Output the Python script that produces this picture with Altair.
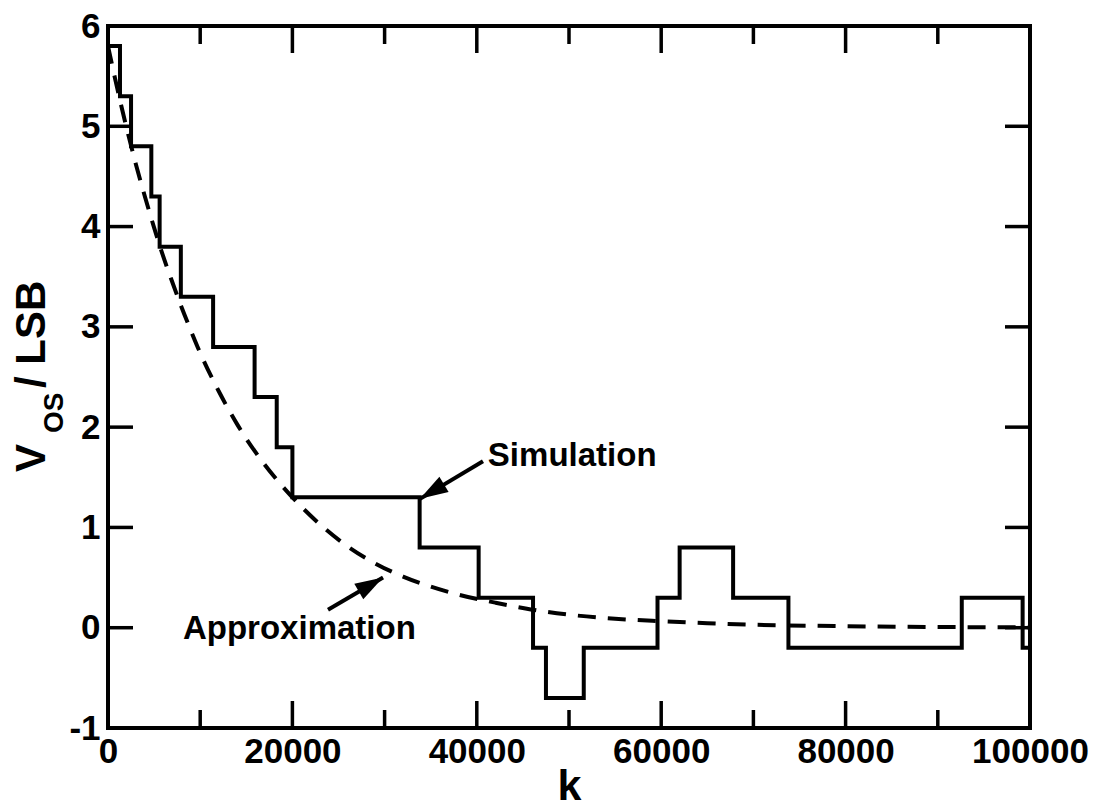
import altair as alt
import pandas as pd

# ---- data ----
sim_k = [0, 1300, 2500, 4700, 5600, 7900, 11400, 15900, 18300, 20000, 33800,
         40200, 46100, 47500, 51600, 59600, 62000, 67800, 73800, 92600, 99200, 100000]
sim_v = [5.8, 5.3, 4.8, 4.3, 3.8, 3.3, 2.8, 2.3, 1.8, 1.3, 0.8,
         0.3, -0.2, -0.7, -0.2, 0.3, 0.8, 0.3, -0.2, 0.3, -0.2, -0.2]

approx_k = [0, 1000, 2000, 3000, 4000, 5000, 6000, 7000, 8000, 9000, 10000,
            12000, 14000, 16000, 18000, 20000, 23000, 26000, 29000, 32000, 35000,
            38000, 42000, 46000, 50000, 55000, 60000, 65000, 70000, 80000, 90000, 100000]
approx_v = [5.8, 5.38, 4.99, 4.63, 4.30, 3.99, 3.70, 3.44, 3.19, 2.96, 2.74,
            2.36, 2.03, 1.75, 1.51, 1.30, 1.03, 0.81, 0.64, 0.51, 0.41,
            0.33, 0.25, 0.18, 0.13, 0.09, 0.065, 0.045, 0.03, 0.015, 0.007, 0.003]

x_labels = [0, 20000, 40000, 60000, 80000, 100000]
x_major_inner = [20000, 40000, 60000, 80000]
x_minor = [10000, 30000, 50000, 70000, 90000]
y_labels = [-1, 0, 1, 2, 3, 4, 5, 6]
y_inner = [0, 1, 2, 3, 4, 5]

ann_text = ["Simulation", "Approximation"]
ann_k = [41200, 8130]
ann_v = [1.61, -0.11]
arrow_tail_k = [40670, 23860]
arrow_tail_v = [1.66, 0.18]
arrow_tip_k = [33840, 29830]
arrow_tip_v = [1.285, 0.50]
arrow_angle = [239, 60]

# ---- layout / style ----
W, H = 922, 702
FONT = "Liberation Sans"

sim_df = pd.DataFrame({"k": sim_k, "v": sim_v})
approx_df = pd.DataFrame({"k": approx_k, "v": approx_v})
ann_df = pd.DataFrame({"t": ann_text, "k": ann_k, "v": ann_v})
arrow_df = pd.DataFrame({"k": arrow_tail_k, "v": arrow_tail_v,
                         "k2": arrow_tip_k, "v2": arrow_tip_v, "a": arrow_angle})

xscale = alt.Scale(domain=[0, 100000], nice=False, zero=False)
yscale = alt.Scale(domain=[-1, 6], nice=False, zero=False)

xaxis = alt.Axis(values=x_labels, labelExpr="'' + datum.value", ticks=False, tickSize=0,
                 domain=False, grid=False, labelPadding=6, labelFlush=False,
                 labelOverlap=False, labelFontSize=35, labelFont=FONT,
                 labelFontWeight="bold", labelColor="black",
                 title="k", titleFont=FONT, titleFontSize=43, titleFontWeight="bold",
                 titleColor="black", titleX=W / 2, titleY=71, titleBaseline="alphabetic")
yaxis = alt.Axis(values=y_labels, labelExpr="'' + datum.value", ticks=False, tickSize=0,
                 domain=False, grid=False, labelPadding=8, labelFlush=False,
                 labelOverlap=False, labelFontSize=35, labelFont=FONT,
                 labelFontWeight="bold", labelColor="black", title=None)

base_x = alt.X("k:Q", scale=xscale, axis=xaxis)
base_y = alt.Y("v:Q", scale=yscale, axis=yaxis)

sim = alt.Chart(sim_df).mark_line(interpolate="step-after", color="black",
                                  strokeWidth=4).encode(x=base_x, y=base_y)
approx = alt.Chart(approx_df).mark_line(interpolate="monotone", color="black",
                                        strokeWidth=4, strokeDash=[18, 12]).encode(
    x=alt.X("k:Q", scale=xscale), y=alt.Y("v:Q", scale=yscale))

# inward ticks
xmaj_df = pd.DataFrame({"k": x_major_inner})
xmin_df = pd.DataFrame({"k": x_minor})
ytk_df = pd.DataFrame({"v": y_inner})
tick_style = dict(color="black", strokeWidth=3.5)
ticks = [
    alt.Chart(xmaj_df).mark_rule(**tick_style).encode(
        x=alt.X("k:Q", scale=xscale), y=alt.value(H), y2=alt.value(H - 27)),
    alt.Chart(xmaj_df).mark_rule(**tick_style).encode(
        x=alt.X("k:Q", scale=xscale), y=alt.value(0), y2=alt.value(27)),
    alt.Chart(xmin_df).mark_rule(**tick_style).encode(
        x=alt.X("k:Q", scale=xscale), y=alt.value(H), y2=alt.value(H - 18)),
    alt.Chart(xmin_df).mark_rule(**tick_style).encode(
        x=alt.X("k:Q", scale=xscale), y=alt.value(0), y2=alt.value(18)),
    alt.Chart(ytk_df).mark_rule(**tick_style).encode(
        y=alt.Y("v:Q", scale=yscale), x=alt.value(0), x2=alt.value(25)),
    alt.Chart(ytk_df).mark_rule(**tick_style).encode(
        y=alt.Y("v:Q", scale=yscale), x=alt.value(W), x2=alt.value(W - 25)),
]

# annotations
ann = alt.Chart(ann_df).mark_text(font=FONT, fontSize=33, fontWeight="bold", color="black",
                                  align="left", baseline="alphabetic").encode(
    x=alt.X("k:Q", scale=xscale), y=alt.Y("v:Q", scale=yscale), text="t:N")
arrow_line = alt.Chart(arrow_df).mark_rule(color="black", strokeWidth=4).encode(
    x=alt.X("k:Q", scale=xscale), y=alt.Y("v:Q", scale=yscale), x2="k2:Q", y2="v2:Q")
arrow_head = alt.Chart(arrow_df).mark_point(
    shape="M0,0L-0.32,1L0.32,1Z", filled=True, color="black", opacity=1,
    size=3136, strokeWidth=0).encode(
    x=alt.X("k2:Q", scale=xscale), y=alt.Y("v2:Q", scale=yscale),
    angle=alt.Angle("a:Q", scale=None))

# y-axis title with subscript
yt_V = alt.Chart(pd.DataFrame({"t": ["V"]})).mark_text(
    font=FONT, fontSize=42, fontWeight="bold", color="black", angle=270,
    align="left", baseline="alphabetic").encode(
    x=alt.value(-63), y=alt.value(446), text="t:N")
yt_OS = alt.Chart(pd.DataFrame({"t": ["OS"]})).mark_text(
    font=FONT, fontSize=28, fontWeight="bold", color="black", angle=270,
    align="left", baseline="alphabetic").encode(
    x=alt.value(-45), y=alt.value(407), text="t:N")
yt_rest = alt.Chart(pd.DataFrame({"t": ["/ LSB"]})).mark_text(
    font=FONT, fontSize=42, fontWeight="bold", color="black", angle=270,
    align="left", baseline="alphabetic").encode(
    x=alt.value(-63), y=alt.value(362), text="t:N")

chart = alt.layer(sim, approx, *ticks, arrow_line, arrow_head, ann, yt_V, yt_OS, yt_rest).properties(
    width=W, height=H, autosize=alt.AutoSizeParams(type="none"),
    padding={"left": 100, "top": 18, "right": 62, "bottom": 80},
    background="white",
).configure_view(stroke="black", strokeWidth=4)

chart.save("out.html", embed_options={"renderer": "svg", "actions": False})
